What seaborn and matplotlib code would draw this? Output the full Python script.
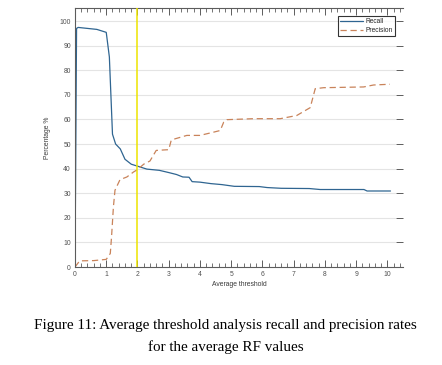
import numpy as np
import pandas as pd
import matplotlib
matplotlib.use("Agg")
import matplotlib.pyplot as plt
from matplotlib.ticker import MultipleLocator
from matplotlib.lines import Line2D
import seaborn as sns

# ---- data ----
recall_x = [0, 0.05, 0.1, 0.4, 0.7, 1.0, 1.1, 1.2, 1.3, 1.45, 1.6, 1.8, 2.0, 2.3, 2.7,
            3.0, 3.25, 3.45, 3.65, 3.75, 4.0, 4.35, 4.7, 5.1, 5.9, 6.15, 6.6, 7.5,
            7.85, 9.25, 9.35, 10.1]
recall_y = [0, 97, 97.4, 97, 96.6, 95.4, 85.4, 54, 50, 48, 43.8, 41.8, 41, 39.8, 39.3,
            38.4, 37.6, 36.6, 36.5, 34.7, 34.5, 33.9, 33.5, 32.8, 32.7, 32.3, 32.0, 31.9,
            31.5, 31.5, 30.9, 30.9]
precision_x = [0, 0.15, 0.6, 1.0, 1.13, 1.17, 1.23, 1.28, 1.44, 1.66, 1.87, 2.0, 2.2,
               2.4, 2.6, 3.0, 3.08, 3.2, 3.58, 4.0, 4.43, 4.65, 4.76, 4.86, 5.72, 6.57,
               7.1, 7.53, 7.69, 7.96, 9.24, 9.56, 10.08]
precision_y = [0, 2.5, 2.6, 3.1, 5.5, 12.3, 24.5, 31.2, 35.5, 36.6, 38.6, 39.6, 41.8,
               43.1, 47.4, 47.7, 51.5, 52.1, 53.5, 53.5, 54.8, 55.5, 58.9, 59.9, 60.3,
               60.3, 61.6, 64.8, 72.5, 72.9, 73.2, 74.0, 74.3]
series_names = ["Recall", "Precision"]
threshold_line = 2
x_ticks = list(range(0, 11))
y_ticks = list(range(0, 101, 10))
x_label = "Average threshold"
y_label = "Percentage %"
caption_lines = ["Figure 11: Average threshold analysis recall and precision rates",
                 "for the average RF values"]

sns.set_style("white")
plt.rcParams['font.family'] = ['Liberation Sans', 'DejaVu Sans']

fig = plt.figure(figsize=(4.42, 3.65), dpi=100)
ax = fig.add_axes([75/442, 1-267/365, (403-75)/442, (267-8)/365])

recall_col = "#2f6591"
prec_col = "#c9835a"
axis_col = "#5c5c5c"
label_col = "#505050"

df_r = pd.DataFrame({"x": recall_x, "y": recall_y})
df_p = pd.DataFrame({"x": precision_x, "y": precision_y})

for yv in y_ticks[1:]:
    ax.axhline(yv, color="#e4e4e4", lw=0.8, zorder=0, xmax=0.976)

sns.lineplot(data=df_r, x="x", y="y", ax=ax, color=recall_col, lw=0.9,
             estimator=None, sort=False)
sns.lineplot(data=df_p, x="x", y="y", ax=ax, color=prec_col, lw=0.9,
             estimator=None, sort=False, dashes=False, linestyle=(0, (5, 3)))
ax.axvline(threshold_line, color="#ede400", lw=1.1, zorder=3)

ax.set_xlim(0, 10.5)
ax.set_ylim(0, 105.3)
ax.set_xticks(x_ticks)
ax.set_yticks(y_ticks)
ax.xaxis.set_minor_locator(MultipleLocator(0.2))
ax.tick_params(axis="x", which="major", direction="in", length=5, width=0.7,
               top=True, bottom=True, color=axis_col, labelsize=4.9,
               labelcolor=label_col, pad=3)
ax.tick_params(axis="x", which="minor", direction="in", length=3, width=0.6,
               top=True, bottom=True, color=axis_col)
ax.tick_params(axis="y", which="major", direction="in", length=5, width=0.7,
               left=False, right=True, color=axis_col, labelsize=4.9,
               labelcolor=label_col, pad=3)
for s in ["left", "top", "bottom"]:
    ax.spines[s].set_visible(True)
    ax.spines[s].set_color(axis_col)
    ax.spines[s].set_linewidth(0.8)
ax.spines["right"].set_visible(False)

ax.set_xlabel(x_label, fontsize=4.9, color="#3a3a3a", labelpad=2)
ax.set_ylabel(y_label, fontsize=4.9, color="#3a3a3a", labelpad=6)

handles = [Line2D([], [], color=recall_col, lw=0.9),
           Line2D([], [], color=prec_col, lw=0.9, linestyle=(0, (5, 3)))]
leg = ax.legend(handles, series_names, loc="upper right",
                bbox_to_anchor=(0.976, 0.969), borderaxespad=0, fontsize=4.8,
                handlelength=3.4, frameon=True, fancybox=False,
                borderpad=0.35, labelspacing=0.25, handletextpad=0.4)
leg.get_frame().set_edgecolor("black")
leg.get_frame().set_linewidth(0.8)

fig.text(0.511, 1-325/365, caption_lines[0], ha="center", va="center",
         fontsize=10.9, family=["Liberation Serif"], color="black")
fig.text(0.511, 1-347/365, caption_lines[1], ha="center", va="center",
         fontsize=10.9, family=["Liberation Serif"], color="black")

fig.savefig("out.png", dpi=100)
